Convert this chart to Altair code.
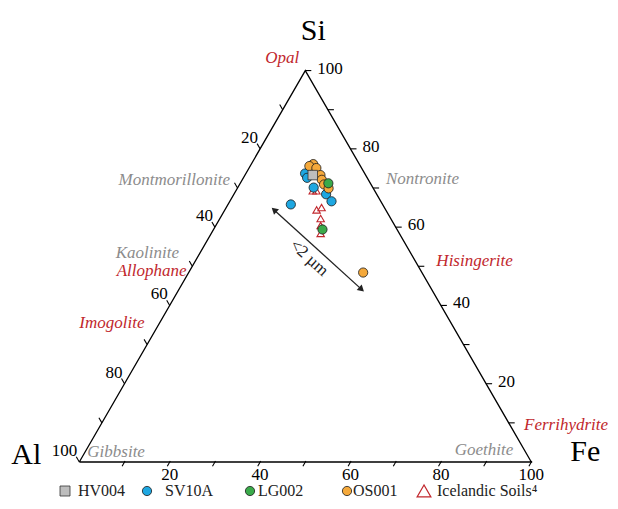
import math
import altair as alt
import pandas as pd

H = math.sqrt(3) / 2

# sample compositions (Si and Fe in %, Al is the rest)
hv004_si = [73.3]
hv004_fe = [15.0]
sv10a_si = [73.7, 72.6, 70.1, 68.4, 66.6, 65.8]
sv10a_fe = [13.1, 14.1, 16.8, 20.4, 22.5, 13.9]
lg002_si = [71.2, 59.4]
lg002_fe = [19.5, 24.1]
os001_si = [76.1, 75.6, 75.1, 73.3, 72.1, 70.9, 69.9, 48.4]
os001_fe = [13.7, 13.1, 14.9, 16.7, 17.6, 18.7, 20.2, 38.6]
soils_si = [69.3, 69.3, 64.4, 65.0, 62.2, 60.4, 58.4]
soils_fe = [17.0, 17.8, 20.3, 21.1, 22.3, 23.2, 24.2]

# axis ticks and labels
tick_steps = [10, 20, 30, 40, 50, 60, 70, 80, 90, 100]
tick_labels = [20, 40, 60, 80, 100]

# mineral end-members: name, colour key, Si %, Fe %
minerals = [
    ("Opal", "red", 100, 0),
    ("Montmorillonite", "grey", 72, 0),
    ("Kaolinite", "grey", 53.4, 0),
    ("Allophane", "red", 48.8, 0),
    ("Imogolite", "red", 35.5, 0),
    ("Gibbsite", "grey", 0, 0),
    ("Goethite", "grey", 0, 100),
    ("Nontronite", "grey", 72.3, 27.7),
    ("Hisingerite", "red", 51.3, 48.7),
    ("Ferrihydrite", "red", 9.4, 90.6),
]
# label offsets (align, dx, dy) for each mineral
mineral_offsets = [
    ("right", -6, -13), ("right", -12, 0), ("right", -21, 0), ("right", -3, 0),
    ("right", -15, 0), ("left", 8, -10), ("right", -18, -12), ("left", 18, 0),
    ("left", 21, 0), ("left", 14, 0),
]

# size-fraction arrow (Si %, Fe %)
arrow_si = [64.4, 44.1]
arrow_fe = [10.9, 40.4]

legend_names = ["HV004", "SV10A", "LG002", "OS001", "Icelandic Soils\u2074"]

RED = "#c1272d"
GREY = "#8c8c8c"
FONT = "Liberation Serif"

# pixel layout: Al corner at (79.3, 462) on the page, 452 px per unit side
S = 452.0
W, HT = 602, 493
X0, X1 = (8 - 79.3) / S, (8 + W - 79.3) / S
Y0, Y1 = (462 - 8 - HT) / S, (462 - 8) / S
xs = alt.Scale(domain=[X0, X1], nice=False, zero=False)
ys = alt.Scale(domain=[Y0, Y1], nice=False, zero=False)


def txy(si, fe):
    return (fe + si / 2) / 100, si / 100 * H


def pos():
    return dict(x=alt.X("x:Q", scale=xs, axis=None), y=alt.Y("y:Q", scale=ys, axis=None))


def tern(si, fe):
    df = pd.DataFrame({"Si": si, "Fe": fe})
    return alt.Chart(df).transform_calculate(
        x="(datum.Fe + datum.Si / 2) / 100", y=f"datum.Si / 100 * {H}"
    )


layers = []

# triangle outline
corners = pd.DataFrame({"i": [0, 1, 2, 3], "x": [0, 0.5, 1, 0], "y": [0, H, 0, 0]})
layers.append(
    alt.Chart(corners).mark_line(color="black", strokeWidth=1.3).encode(order="i:O", **pos())
)

# ticks
L = 6 / S
rows = []
for v in tick_steps:
    bx, by = v / 100, 0
    rows.append((bx + 0.2 * L * 0.5, by + 0.2 * L * H, bx - 0.8 * L * 0.5, by - 0.8 * L * H))
    lx, ly = txy(100 - v, 0)
    rows.append((lx, ly, lx - L * 0.5, ly + L * H))
    rx, ry = txy(v, 100 - v)
    rows.append((rx, ry, rx + L, ry))
ticks = pd.DataFrame(rows, columns=["x", "y", "x2", "y2"])
layers.append(
    alt.Chart(ticks).mark_rule(color="black", strokeWidth=1.1).encode(
        x2="x2:Q", y2="y2:Q", **pos()
    )
)

# tick labels
bot = pd.DataFrame({"t": tick_labels, "x": [v / 100 for v in tick_labels], "y": [0] * 5})
left = pd.DataFrame({"t": tick_labels,
                     "x": [txy(100 - v, 0)[0] for v in tick_labels],
                     "y": [txy(100 - v, 0)[1] for v in tick_labels]})
right = pd.DataFrame({"t": tick_labels,
                      "x": [txy(v, 100 - v)[0] for v in tick_labels],
                      "y": [txy(v, 100 - v)[1] for v in tick_labels]})
for df, al, dx, dy in [(bot, "center", 0, 13), (left, "right", -2, -11), (right, "left", 12, -2)]:
    layers.append(
        alt.Chart(df).mark_text(font=FONT, fontSize=17, color="black", align=al,
                                baseline="middle", dx=dx, dy=dy).encode(text="t:N", **pos())
    )

# mineral names
for (name, col, si, fe), (al, dx, dy) in zip(minerals, mineral_offsets):
    x, y = txy(si, fe)
    layers.append(
        alt.Chart(pd.DataFrame({"t": [name], "x": [x], "y": [y]})).mark_text(
            font=FONT, fontSize=17, fontStyle="italic", color=RED if col == "red" else GREY,
            align=al, baseline="middle", dx=dx, dy=dy
        ).encode(text="t:N", **pos())
    )

# corner labels
for name, si, fe, dx, dy in [("Si", 100, 0, 8, -40), ("Al", 0, 0, -53, -7), ("Fe", 0, 100, 54, -10)]:
    x, y = txy(si, fe)
    layers.append(
        alt.Chart(pd.DataFrame({"t": [name], "x": [x], "y": [y]})).mark_text(
            font=FONT, fontSize=30, color="black", align="center", baseline="middle",
            dx=dx, dy=dy
        ).encode(text="t:N", **pos())
    )

# arrow
a0 = txy(arrow_si[0], arrow_fe[0])
a1 = txy(arrow_si[1], arrow_fe[1])
ang = math.degrees(math.atan2(a1[0] - a0[0], a1[1] - a0[1]))
layers.append(
    tern(arrow_si, arrow_fe).mark_line(color="#222222", strokeWidth=1.3).encode(**pos())
)
heads = pd.DataFrame({"x": [a0[0], a1[0]], "y": [a0[1], a1[1]], "a": [ang + 180, ang]})
layers.append(
    alt.Chart(heads).mark_point(shape="triangle-up", filled=True, color="#222222", size=55,
                                opacity=1).encode(angle=alt.Angle("a:Q", scale=None), **pos())
)
mid = pd.DataFrame({"t": ["<2 \u00b5m"], "x": [(a0[0] + a1[0]) / 2], "y": [(a0[1] + a1[1]) / 2]})
layers.append(
    alt.Chart(mid).mark_text(font=FONT, fontSize=17, color="#222222", angle=42,
                             align="center", baseline="middle", dx=-1, dy=12).encode(
        text="t:N", **pos())
)

# samples
layers.append(
    tern(soils_si, soils_fe).mark_point(shape="triangle-up", filled=False, stroke=RED,
                                        strokeWidth=1.1, size=55, opacity=1).encode(**pos())
)
for si, fe, col in [(sv10a_si, sv10a_fe, "#1ea7e1"), (os001_si, os001_fe, "#f5a93b"),
                    (lg002_si, lg002_fe, "#3aaa4a")]:
    layers.append(
        tern(si, fe).mark_point(shape="circle", filled=True, fill=col, stroke="#1a1a1a",
                                strokeWidth=0.8, size=85, opacity=1).encode(**pos())
    )
layers.append(
    tern(hv004_si, hv004_fe).mark_point(shape="square", filled=True, fill="#bdbdbd",
                                        stroke="#333333", strokeWidth=0.8, size=90,
                                        opacity=1).encode(**pos())
)

# legend along the bottom
sym_px = [65, 147, 250, 347, 424]
txt_px = [78, 165, 258, 353, 437]
LY = (462 - 491) / S
leg_style = [
    dict(shape="square", filled=True, fill="#bdbdbd", stroke="#333333", strokeWidth=0.8, size=100),
    dict(shape="circle", filled=True, fill="#1ea7e1", stroke="#1a1a1a", strokeWidth=0.8, size=85),
    dict(shape="circle", filled=True, fill="#3aaa4a", stroke="#1a1a1a", strokeWidth=0.8, size=85),
    dict(shape="circle", filled=True, fill="#f5a93b", stroke="#1a1a1a", strokeWidth=0.8, size=85),
    dict(shape="triangle-up", filled=False, stroke=RED, strokeWidth=1.2, size=190),
]
for name, sp, tp, st in zip(legend_names, sym_px, txt_px, leg_style):
    layers.append(
        alt.Chart(pd.DataFrame({"x": [(sp - 79.3) / S], "y": [LY]})).mark_point(
            opacity=1, **st).encode(**pos())
    )
    layers.append(
        alt.Chart(pd.DataFrame({"t": [name], "x": [(tp - 79.3) / S], "y": [LY]})).mark_text(
            font=FONT, fontSize=16, color="#222222", align="left", baseline="middle"
        ).encode(text="t:N", **pos())
    )

chart = alt.layer(*layers).properties(
    width=W, height=HT, padding=0, autosize=alt.AutoSizeParams(type="none")
).configure_view(stroke=None)

chart.save("out.html", embed_options={"renderer": "svg", "actions": False})
